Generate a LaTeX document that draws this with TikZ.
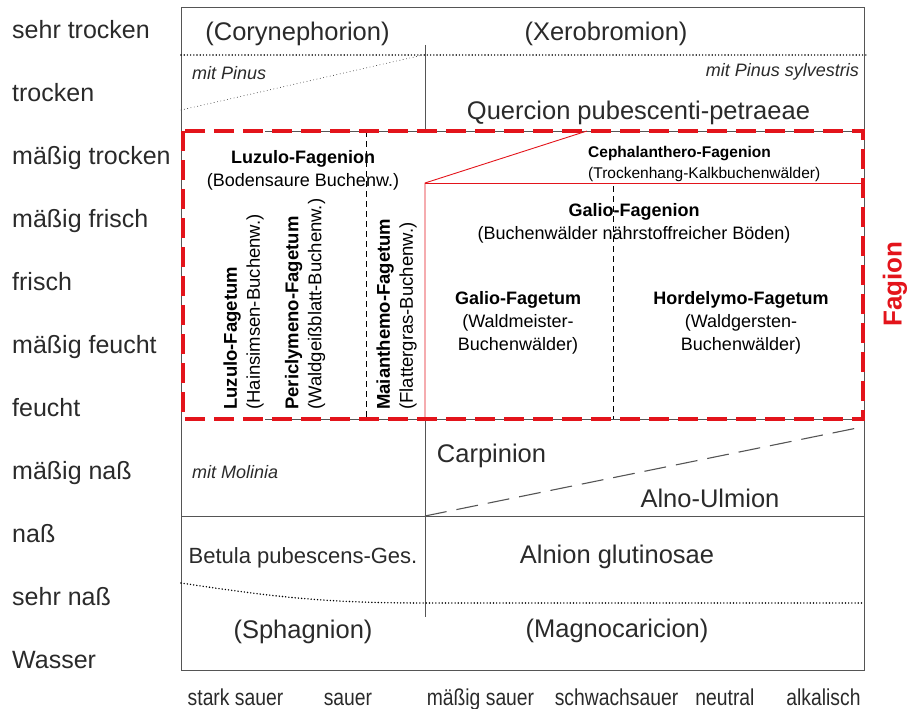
\documentclass[tikz,border=0pt]{standalone}
\usepackage{fontspec}
\usepackage{graphicx}
\setmainfont{Liberation Sans}
\usepackage{tikz}
\usetikzlibrary{positioning}
\definecolor{fagred}{HTML}{E3141B}
\definecolor{framegray}{HTML}{555555}
\definecolor{ink}{HTML}{2A2A2A}
\newcommand{\fsz}[2][1.25]{\fontsize{#2}{#1\dimexpr #2pt\relax}\selectfont}
\newcommand{\narrow}[1]{\scalebox{0.84}[1]{#1}}
\tikzset{
  moist/.style  = {font=\fsz{25}, text=ink, anchor=west, inner sep=0pt,
                   text height=18pt, text depth=0pt},
  acid/.style   = {font=\fsz{23}, text=ink, inner sep=0pt,
                   text height=16.5pt, text depth=0pt},
  reg/.style    = {font=\fsz{25.5}, text=ink, inner sep=0pt,
                   text height=18.4pt, text depth=0pt},
  ital/.style   = {font=\fsz{18}\itshape, text=ink, inner sep=0pt,
                   text height=13pt, text depth=0pt},
  unit/.style   = {font=\fontsize{18}{23}\selectfont, align=center, anchor=north,
                   inner sep=0pt},
  vunit/.style  = {font=\fontsize{18.5}{23}\selectfont, align=left, rotate=90,
                   anchor=west, inner sep=0pt},
  grid/.style   = {draw=framegray, line width=1pt},
  dotln/.style  = {draw=black, line width=1.6pt, dash pattern=on 0pt off 3.2pt,
                   line cap=round},
  fdot/.style   = {draw=black!80, line width=0.9pt, dash pattern=on 0pt off 3.4pt,
                   line cap=round},
  slant/.style  = {draw=framegray, line width=1.1pt, dash pattern=on 22pt off 10pt},
  dsh/.style    = {draw=black, line width=1pt, dash pattern=on 6pt off 4pt},
  sub/.style    = {draw=fagred, line width=0.9pt},
  fagion/.style = {draw=fagred, line width=3.6pt, dash pattern=on 20pt off 9pt},
}
\begin{document}
\begin{tikzpicture}[x=1pt, y=-1pt]
  \useasboundingbox (0,0) rectangle (911,709);

  % frame and zone borders
  \draw[grid] (181,8) rectangle (864,670);
  \draw[dotln] (181,55) -- (866,55);
  \draw[fdot] (181,110) -- (423,55);
  \draw[grid] (425,45) -- (425,131);
  \draw[grid] (265,131) -- (864,131);
  \draw[grid] (265,419) -- (864,419);
  \draw[grid] (425,419) -- (425,617);
  \draw[grid] (181,516) -- (864,516);
  \draw[slant] (425,516) -- (862,427);
  \draw[dotln] (181,583) .. controls (280,598) and (330,603) .. (425,603) -- (864,603);

  % beech forest units
  \draw[dsh] (366,131) -- (366,419);
  \draw[dsh] (613,186) -- (613,419);
  \draw[sub] (425,419) -- (425,183) -- (587,131);
  \draw[sub] (425,183) -- (863,183);
  \draw[fagion] (183,131) rectangle (863,419);

  % moisture scale
  \foreach \t [count=\i from 0] in {sehr trocken, trocken, mäßig trocken,
      mäßig frisch, frisch, mäßig feucht, feucht, mäßig naß, naß, sehr naß, Wasser}
    \node[moist] (m\i) at (12,{30+62.9*\i}) {\t};

  % acidity scale
  \foreach \x/\t [count=\i] in {235.5/stark sauer, 348/sauer, 480.5/mäßig sauer,
      616.5/schwachsauer, 725/neutral, 823.5/alkalisch}
    \node[acid] (a\i) at (\x,697) {\narrow{\t}};

  % alliances outside the Fagion
  \node[reg] (cory)  at (297.5,31)  {(Corynephorion)};
  \node[reg] (xero)  at (606,31)    {(Xerobromion)};
  \node[ital, anchor=west] (pin) at (192,73) {mit Pinus};
  \node[ital, anchor=east] (pins) at (859,70) {mit Pinus sylvestris};
  \node[reg] (querc) at (638.5,110) {Quercion pubescenti-petraeae};
  \node[reg] (carp)  at (491.5,453) {Carpinion};
  \node[ital, anchor=west] (mol) at (192,472) {mit Molinia};
  \node[reg] (alno)  at (710,498)   {Alno-Ulmion};
  \node[reg, font=\fsz{22}, text height=16pt] (betula) at (303,555) {Betula pubescens-Ges.};
  \node[reg] (alnion) at (617,554)  {Alnion glutinosae};
  \node[reg] (sphag) at (303,629)   {(Sphagnion)};
  \node[reg] (magno) at (617,628)   {(Magnocaricion)};

  % Fagion units
  \node[unit] (luzn) at (303,150.5) {\textbf{Luzulo-Fagenion}\\(Bodensaure Buchenw.)};
  \node[unit, anchor=north west, align=left, font=\fontsize{15.5}{21}\selectfont]
    (ceph) at (588,146.5) {\textbf{Cephalanthero-Fagenion}\\(Trockenhang-Kalkbuchenwälder)};
  \node[unit] (galn) at (634,203.5) {\textbf{Galio-Fagenion}\\(Buchenwälder nährstoffreicher Böden)};
  \node[unit] (galf) at (518,291.5) {\textbf{Galio-Fagetum}\\(Waldmeister-\\Buchenwälder)};
  \node[unit] (hord) at (741,291.5) {\textbf{Hordelymo-Fagetum}\\(Waldgersten-\\Buchenwälder)};
  \node[vunit] (luzf) at (243.5,410) {\textbf{Luzulo-Fagetum}\\(Hainsimsen-Buchenw.)};
  \node[vunit] (peri) at (305,410)   {\textbf{Periclymeno-Fagetum}\\(Waldgeißblatt-Buchenw.)};
  \node[vunit] (maia) at (396.5,410) {\textbf{Maianthemo-Fagetum}\\(Flattergras-Buchenw.)};
  \node[rotate=90, font=\fsz{26}\bfseries, text=fagred, inner sep=0pt] (fag) at (895,284) {Fagion};
\end{tikzpicture}
\end{document}
